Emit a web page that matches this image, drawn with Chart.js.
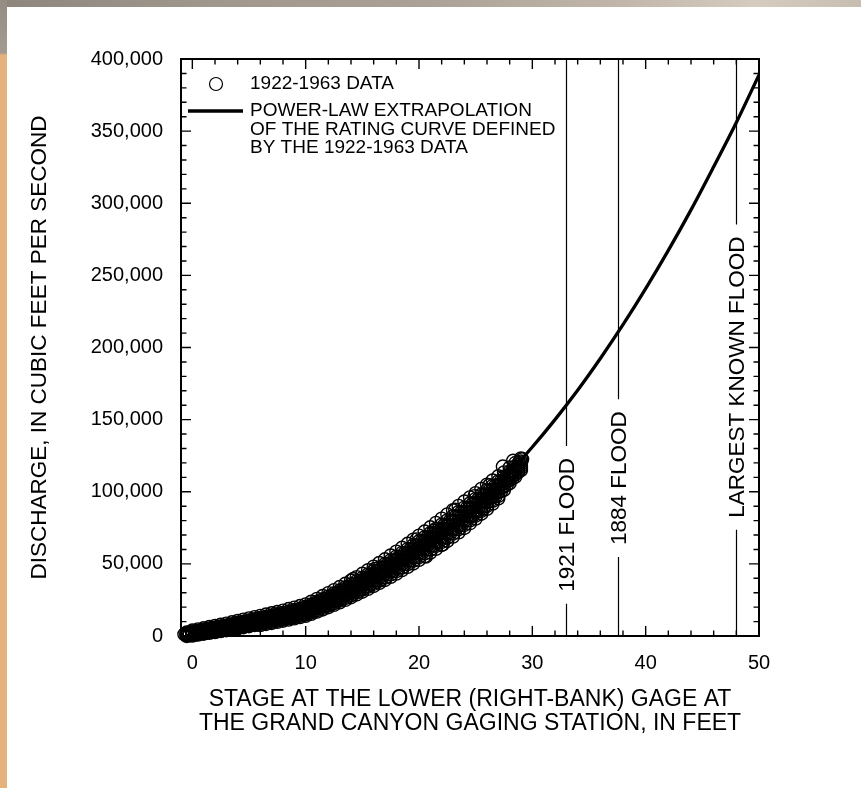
<!DOCTYPE html>
<html>
<head>
<meta charset="utf-8">
<title>Rating curve, Colorado River near Grand Canyon</title>
<script src="https://cdn.jsdelivr.net/npm/chart.js@4.4.1/dist/chart.umd.min.js"></script>
<style>
  html, body { margin: 0; padding: 0; width: 861px; height: 788px; overflow: hidden; background: #fff; }
  #topStrip { position: absolute; left: 0; top: 0; width: 861px; height: 7px;
    background: linear-gradient(90deg, #8e867d 0%, #a0978d 25%, #aba196 50%, #c1b6a9 72%, #d5cbbf 88%, #c8bdb1 100%); }
  #leftStrip { position: absolute; left: 0; top: 0; width: 7px; height: 788px;
    background: linear-gradient(180deg, #958c83 0px, #a39a90 53px, #e4b27c 55px, #e4b27c 100%); }
  #wrap { position: absolute; left: 0; top: 0; width: 861px; height: 788px; }
</style>
</head>
<body>
<div id="topStrip"></div>
<div id="leftStrip"></div>
<div id="wrap"><canvas id="chart" width="861" height="788"></canvas></div>
<script>
// Measured stage (ft) and discharge (cfs), 1922-1963, sampled across the width of the cloud
const obsStage = [-0.5,0,0.5,1,1.5,2,2.5,3,3.5,4,4.5,5,5.5,6,6.5,7,7.5,8,8.5,9,9.5,10,10.5,11,11.5,12,12.5,13,13.5,14,14.5,15,15.5,16,16.5,17,17.5,18,18.5,19,19.5,20,20.5,21,21.5,22,22.5,23,23.5,24,24.5,25,25.5,26,26.5,27,27.5,28,28.5,29];
const obsQ1 = [0,300,950,1600,2150,2700,3350,4000,4650,5300,6050,6800,7550,8300,9050,9800,10600,11400,12200,13050,14000,14900,16350,17900,19450,21100,22750,24500,26350,28200,30150,32100,34150,36200,38350,40500,42750,45000,47400,49750,52200,54700,57300,59850,62500,65200,68100,71000,74000,77000,80200,83400,86750,90100,93650,97200,101300,106000,110500,115000];
const obsQ2 = [450,950,1600,2300,2900,3500,4200,4850,5550,6250,7000,7800,8600,9350,10100,10900,11700,12550,13400,14300,15250,16200,17700,19350,21000,22700,24400,26250,28200,30100,32100,34150,36300,38400,40600,42850,45200,47500,49950,52400,54900,57450,60100,62700,65450,68200,71100,74000,77000,80000,83150,86300,89600,92850,96300,99700,103550,108000,112250,116500];
const obsQ3 = [900,1600,2300,3000,3650,4300,5000,5700,6450,7200,8000,8800,9600,10400,11200,12000,12850,13700,14600,15500,16500,17500,19100,20800,22500,24300,26100,28000,30000,32000,34100,36200,38400,40600,42900,45200,47600,50000,52500,55000,57600,60200,62900,65600,68400,71200,74100,77000,80000,83000,86100,89200,92400,95600,98900,102200,105800,110000,114000,118000];
const obsQ4 = [1350,2250,3000,3700,4400,5100,5800,6550,7350,8150,9000,9800,10600,11450,12300,13100,14000,14850,15800,16700,17750,18800,20500,22250,24000,25900,27800,29750,31800,33900,36100,38250,40500,42800,45200,47550,50000,52500,55050,57600,60300,62950,65700,68500,71350,74200,77100,80000,83000,86000,89050,92100,95200,98350,101500,104700,108050,112000,115750,119500];
const obsQ5 = [1800,2900,3650,4400,5150,5900,6650,7400,8250,9100,9950,10800,11650,12500,13350,14200,15100,16000,17000,17950,19000,20100,21850,23700,25550,27500,29450,31500,33650,35800,38050,40300,42650,45000,47450,49900,52450,55000,57600,60250,63000,65700,68500,71350,74300,77200,80100,83000,86000,89000,92000,95000,98050,101100,104150,107200,110300,114000,117500,121000];
// Upper fringe of the cloud, same stages
const obsQTop = [2430,3810,4600,5380,6200,7020,7800,8590,9510,10430,11320,12200,13090,13970,14860,15740,16680,17610,18680,19670,20750,21920,23780,25730,27690,29740,31800,33950,36200,38460,40820,43170,45630,48080,50640,53190,55850,58500,61170,63930,66780,69550,72420,75380,78430,81400,84300,87200,90200,93200,96130,99060,102000,104950,107830,110700,113450,116800,119950,123100];
// Lower fringe of the cloud
const obsStageLow = [6,6.5,7,7.5,8,8.5,9,9.5,10,10.5,11,11.5,12,12.5,13,13.5,14,14.5,15,15.5,16,16.5,17,17.5,18,18.5,19,19.5,20,20.5,21,21.5,22,22.5,23,23.5,24,24.5,25,25.5,26,26.5,27];
const obsQLow = [7570,8300,9030,9810,10600,11360,12190,13130,13990,15390,16890,18380,19980,21580,23280,25070,26870,28770,30670,32660,34660,36760,38860,41050,43250,45620,47910,50310,52780,55340,57840,60440,63100,66000,68900,71900,74900,78140,81370,84770,88180,91810,95450];
// Readings taken between the stages above
const obsStageB = [-0.25,0.25,0.75,1.25,1.75,2.25,2.75,3.25,3.75,4.25,4.75,5.25,5.75,6.25,6.75,7.25,7.75,8.25,8.75,9.25,9.75,10.25,10.75,11.25,11.75,12.25,12.75,13.25,13.75,14.25,14.75,15.25,15.75,16.25,16.75,17.25,17.75,18.25,18.75,19.25,19.75,20.25,20.75,21.25,21.75,22.25,22.75,23.25,23.75,24.25,24.75,25.25,25.75,26.25,26.75,27.25,27.75,28.25,28.75];
const obsQB1 = [430,960,1620,2240,2810,3430,4090,4760,5440,6160,6920,7680,8440,9210,9970,10760,11570,12390,13230,14140,15090,16290,17830,19420,21060,22740,24480,26320,28210,30140,32130,34170,36260,38390,40580,42820,45110,47460,49870,52310,54810,57390,59990,62630,65340,68150,71050,74000,77000,80090,83260,86510,89820,93220,96710,100440,104710,109190,113560];
const obsQB2 = [980,1620,2310,2960,3590,4240,4930,5640,6360,7120,7910,8690,9480,10270,11060,11870,12710,13560,14440,15380,16360,17630,19240,20910,22620,24380,26190,28110,30070,32080,34140,36260,38420,40630,42890,45210,47570,49990,52460,54970,57540,60160,62830,65540,68310,71150,74050,77000,80000,83060,86190,89370,92610,95910,99270,102810,106840,111060,115190];
const obsQB3 = [1530,2280,2990,3690,4360,5060,5770,6510,7290,8080,8890,9710,10520,11330,12140,12980,13840,14740,15660,16620,17640,18970,20660,22390,24180,26020,27910,29890,31930,34020,36160,38340,40580,42870,45210,47590,50030,52510,55040,57630,60260,62940,65670,68460,71290,74150,77050,80000,83000,86040,89110,92230,95390,98590,101830,105190,108960,112940,116810];
const obsQB4 = [2080,2940,3680,4410,5140,5870,6610,7390,8210,9040,9880,10720,11560,12390,13230,14090,14980,15910,16870,17860,18910,20310,22070,23880,25740,27660,29620,31680,33790,35960,38170,40430,42740,45110,47520,49980,52490,55040,57630,60290,62990,65710,68510,71370,74260,77150,80050,83000,86000,89010,92040,95090,98180,101280,104390,107560,111090,114810,118440];
// Scattered measurements standing off the main cloud
const strayStage = [-0.7,14.2,16.1,19.8,20.6,21.3,22.1,23.2,24.9,25.7,26.2,27.4,27.8,28.3,28.8,29.1];
const strayQ = [1200,39500,46500,67000,55000,73000,63500,87500,97000,88500,104500,117500,109000,121500,120000,122500];

// Power-law rating curve extended to the flood stages
const curveStage = [0,2,4,6,8,10,12,14,16,18,20,22,24,26,28,30,32,34,36,38,40,42,44,46,48,50];
const curveQ = [500,1700,3700,6600,10500,15400,21400,28500,36800,46300,57100,69200,82600,97300,113400,131000,150000,170400,192400,215800,240800,267300,295400,325300,356000,389000];

// Historical flood stages (ft)
const floodStage = [33, 37.6, 48];
const floodLabels = ['1921 FLOOD', '1884 FLOOD', 'LARGEST KNOWN FLOOD'];

// Axis ticks
const xTickValues = [0, 10, 20, 30, 40, 50];
const yTickValues = [0, 50000, 100000, 150000, 200000, 250000, 300000, 350000, 400000];
const xMinorStep = 2;
const yMinorStep = 10000;

const dataLegend = '1922-1963 DATA';
const curveLegend = ['POWER-LAW EXTRAPOLATION', 'OF THE RATING CURVE DEFINED', 'BY THE 1922-1963 DATA'];

const FONT = '"Liberation Sans", Arial, Helvetica, sans-serif';
Chart.defaults.font.family = FONT;
Chart.defaults.color = '#000';

const observations = [];
[obsQ1, obsQ2, obsQ3, obsQ4, obsQ5, obsQTop].forEach(row => {
  obsStage.forEach((h, i) => observations.push({x: h, y: row[i]}));
});
obsStageLow.forEach((h, i) => observations.push({x: h, y: obsQLow[i]}));
[obsQB1, obsQB2, obsQB3, obsQB4].forEach(row => {
  obsStageB.forEach((h, i) => observations.push({x: h, y: row[i]}));
});
strayStage.forEach((h, i) => observations.push({x: h, y: strayQ[i]}));
const curve = curveStage.map((h, i) => ({x: h, y: curveQ[i]}));

// Vertical flood lines, broken around their rotated captions
const floodMarks = {
  id: 'floodMarks',
  beforeDatasetsDraw(chart, args, opts) {
    const {ctx, chartArea: a, scales: {x, y}} = chart;
    ctx.save();
    ctx.font = `${opts.fontSize}px ${FONT}`;
    ctx.strokeStyle = '#000';
    ctx.fillStyle = '#000';
    ctx.lineWidth = 1.2;
    floodStage.forEach((h, i) => {
      const px = Math.round(x.getPixelForValue(h)) + 0.5;
      const cy = y.getPixelForValue(opts.labelAt[i]);
      const half = ctx.measureText(floodLabels[i]).width / 2;
      ctx.beginPath();
      ctx.moveTo(px, a.top);
      ctx.lineTo(px, cy - half - opts.gap);
      ctx.moveTo(px, cy + half + opts.gap);
      ctx.lineTo(px, a.bottom);
      ctx.stroke();
      ctx.save();
      ctx.translate(px, cy);
      ctx.rotate(-Math.PI / 2);
      ctx.textAlign = 'center';
      ctx.textBaseline = 'middle';
      ctx.fillText(floodLabels[i], 0, 1);
      ctx.restore();
    });
    ctx.restore();
  }
};

// Plot frame with inward tick marks on all four sides
const frameTicks = {
  id: 'frameTicks',
  afterDatasetsDraw(chart, args, opts) {
    const {ctx, chartArea: a, scales: {x, y}} = chart;
    ctx.save();
    ctx.strokeStyle = '#000';
    ctx.lineWidth = 1.4;
    ctx.beginPath();
    for (let v = 0; v <= x.max + 1e-9; v += xMinorStep) {
      const len = xTickValues.includes(v) ? opts.major : opts.minor;
      const px = x.getPixelForValue(v);
      ctx.moveTo(px, a.bottom); ctx.lineTo(px, a.bottom - len);
      ctx.moveTo(px, a.top); ctx.lineTo(px, a.top + len);
    }
    for (let v = 0; v <= y.max + 1e-9; v += yMinorStep) {
      const len = yTickValues.includes(v) ? opts.major : opts.minor;
      const py = y.getPixelForValue(v);
      ctx.moveTo(a.left, py); ctx.lineTo(a.left + len, py);
      ctx.moveTo(a.right, py); ctx.lineTo(a.right - len, py);
    }
    ctx.stroke();
    ctx.lineWidth = 2;
    ctx.strokeRect(a.left, a.top, a.right - a.left, a.bottom - a.top);
    ctx.restore();
  }
};

// Key in the upper-left corner of the plot
const keyBox = {
  id: 'keyBox',
  afterDraw(chart, args, opts) {
    const {ctx, chartArea: a} = chart;
    const ds = chart.data.datasets;
    ctx.save();
    ctx.font = `${opts.fontSize}px ${FONT}`;
    ctx.fillStyle = '#000';
    ctx.strokeStyle = '#000';
    ctx.textAlign = 'left';
    ctx.textBaseline = 'middle';
    const tx = a.left + opts.textX;
    const y0 = a.top + opts.firstY;
    ctx.lineWidth = 1.2;
    ctx.beginPath();
    ctx.arc(a.left + opts.symbolX, y0, ds[0].pointRadius, 0, Math.PI * 2);
    ctx.stroke();
    ctx.fillText(dataLegend, tx, y0);
    const y1 = y0 + opts.gapY;
    ctx.lineWidth = ds[1].borderWidth;
    ctx.beginPath();
    ctx.moveTo(a.left + opts.lineFrom, y1);
    ctx.lineTo(a.left + opts.lineTo, y1);
    ctx.stroke();
    curveLegend.forEach((t, i) => ctx.fillText(t, tx, y1 + i * opts.lineStep));
    ctx.restore();
  }
};

new Chart(document.getElementById('chart'), {
  data: {
    datasets: [
      {
        type: 'scatter',
        label: dataLegend,
        data: observations,
        pointStyle: 'circle',
        pointRadius: 6.5,
        pointHoverRadius: 6.5,
        borderWidth: 1.4,
        borderColor: '#000',
        backgroundColor: 'rgba(0,0,0,0)',
        clip: 10,
        order: 2
      },
      {
        type: 'line',
        label: curveLegend.join(' '),
        data: curve,
        borderColor: '#000',
        borderWidth: 3.3,
        pointRadius: 0,
        fill: false,
        cubicInterpolationMode: 'monotone',
        order: 1
      }
    ]
  },
  options: {
    responsive: false,
    animation: false,
    events: [],
    devicePixelRatio: 1,
    layout: { padding: { top: 59, right: 102, left: 0, bottom: 0 } },
    plugins: {
      legend: { display: false },
      tooltip: { enabled: false },
      floodMarks: { fontSize: 22.5, gap: 12, labelAt: [77000, 109500, 179500] },
      frameTicks: { major: 10, minor: 5.5 },
      keyBox: { fontSize: 19, symbolX: 35, textX: 69, firstY: 25, gapY: 27, lineStep: 18.5, lineFrom: 7, lineTo: 62 }
    },
    scales: {
      x: {
        type: 'linear',
        position: 'bottom',
        min: -1,
        max: 50,
        afterBuildTicks: s => { s.ticks = xTickValues.map(v => ({value: v})); },
        afterFit: s => { s.height = 152; },
        grid: { display: false, drawTicks: false },
        border: { display: false },
        ticks: { font: { size: 20 }, color: '#000', padding: 15, maxRotation: 0 },
        title: {
          display: true,
          text: ['STAGE AT THE LOWER (RIGHT-BANK) GAGE AT', 'THE GRAND CANYON GAGING STATION, IN FEET'],
          font: { size: 23, lineHeight: '24px' },
          color: '#000',
          padding: { top: 0, bottom: 52 }
        }
      },
      y: {
        type: 'linear',
        position: 'left',
        min: 0,
        max: 400000,
        afterBuildTicks: s => { s.ticks = yTickValues.map(v => ({value: v})); },
        afterFit: s => { s.width = 181; },
        grid: { display: false, drawTicks: false },
        border: { display: false },
        ticks: { font: { size: 20 }, color: '#000', padding: 18, callback: v => v.toLocaleString('en-US') },
        title: {
          display: true,
          text: 'DISCHARGE, IN CUBIC FEET PER SECOND',
          font: { size: 22.5, lineHeight: '24px' },
          color: '#000',
          padding: { top: 28, bottom: 0 }
        }
      }
    }
  },
  plugins: [floodMarks, frameTicks, keyBox]
});
</script>
</body>
</html>
